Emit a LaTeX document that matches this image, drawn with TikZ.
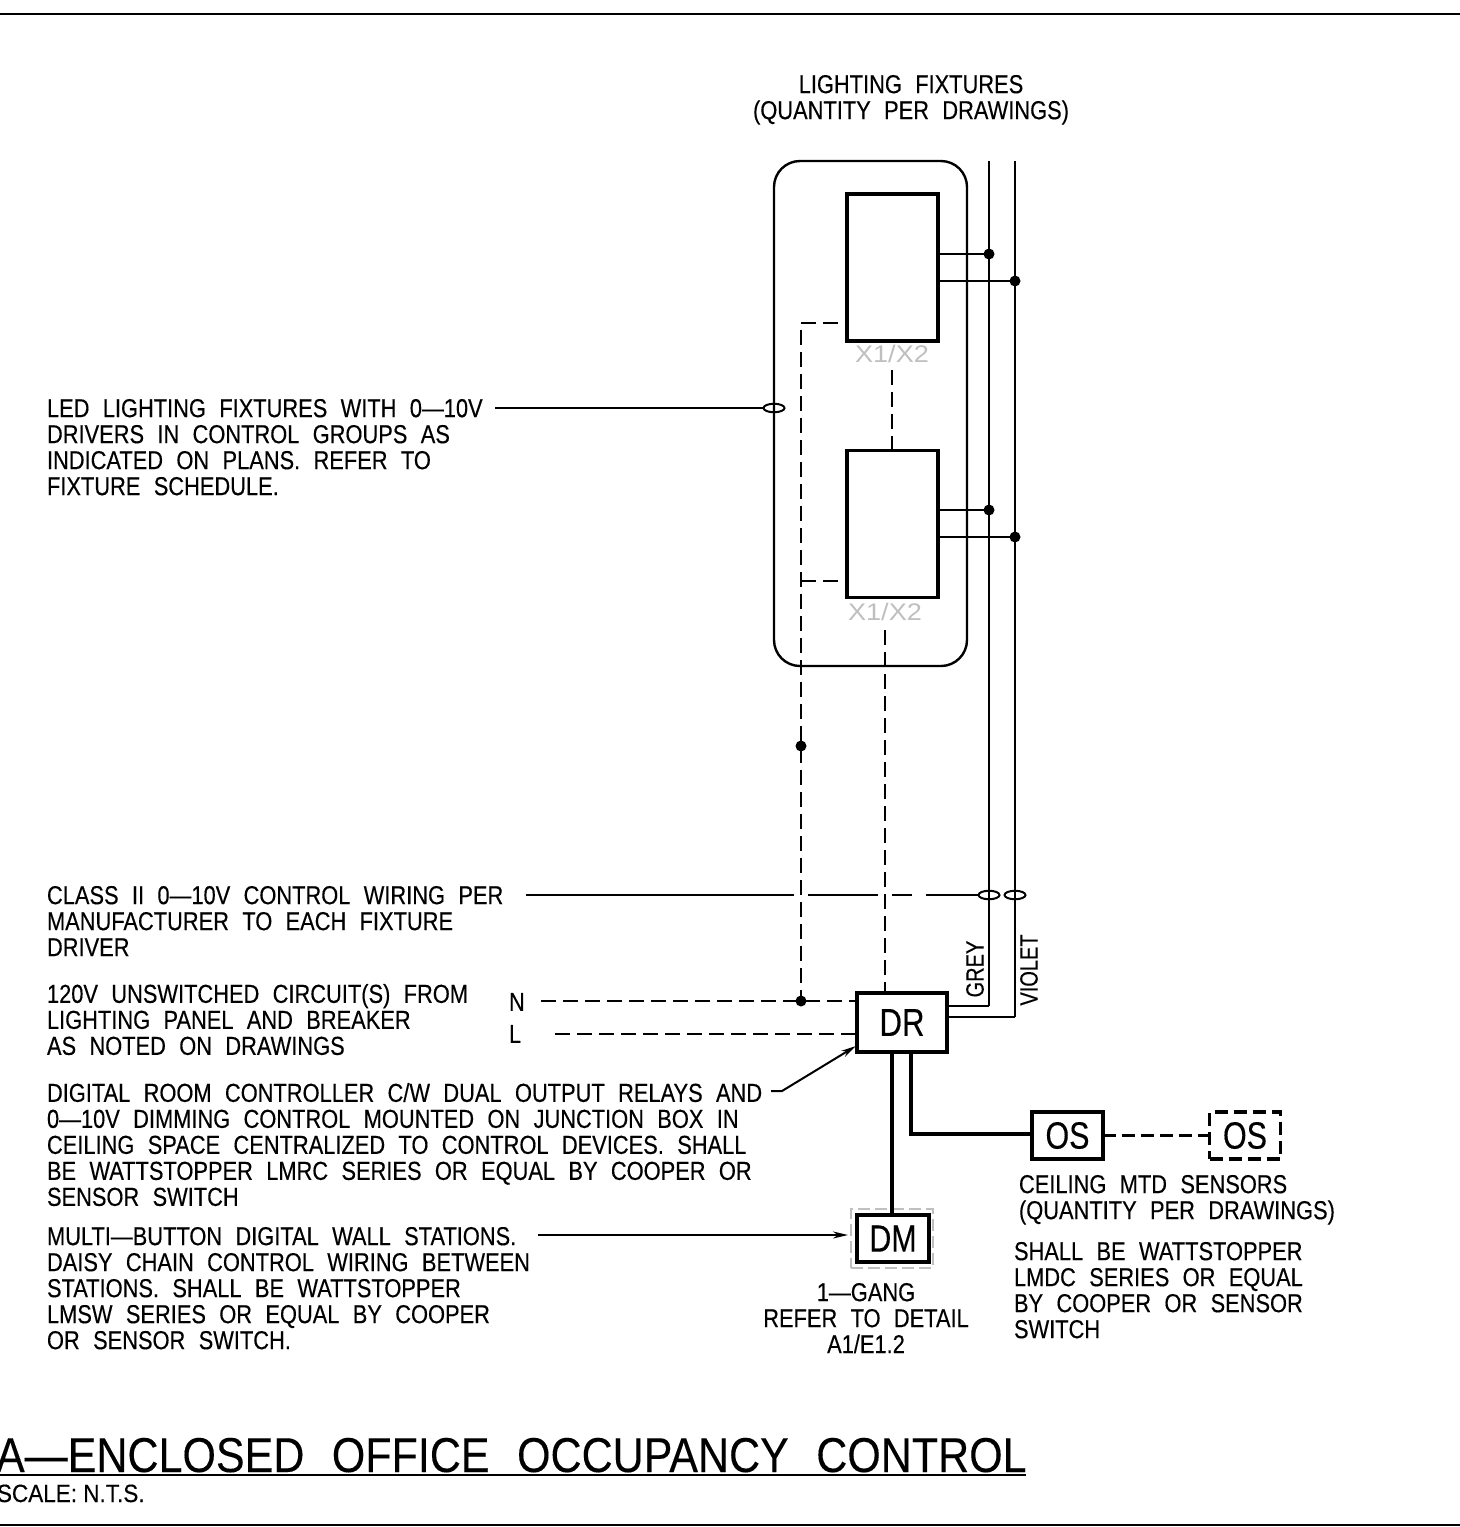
\documentclass[tikz,border=0pt]{standalone}
\usepackage{fontspec}
\setmainfont[FakeStretch=0.84,WordSpace=2.2,FakeBold=0.3]{Liberation Sans}
\newfontfamily\plainfont[FakeStretch=0.8,FakeBold=0.3]{Liberation Sans}
\newfontfamily\ghostfont[FakeStretch=1.13]{Liberation Sans}
\newfontfamily\scalefont[FakeStretch=0.9,FakeBold=0.3]{Liberation Sans}
\newfontfamily\titlefont[FakeStretch=0.878,WordSpace=2.3,FakeBold=0.2]{Liberation Sans}
\usetikzlibrary{arrows.meta,shapes.geometric}

\begin{document}
\begin{tikzpicture}
  [x=1pt,y=-1pt,every node/.style={inner sep=0pt,outer sep=0pt}]

  \tikzset{
  wire/.style = {line width=1.4pt},
  heavy/.style = {line width=3.4pt},
  ctrl/.style = {line width=1.4pt,dash pattern=on 15pt off 7pt},
  note/.style = {anchor=north west,align=left,font=\fontsize{26}{26}\selectfont},
  dev/.style = {draw,line width=3.6pt,minimum width=71pt,minimum height=47pt},
  fixture/.style = {draw,line width=3.8pt,minimum width=91pt,minimum height=147pt},
  ring/.style = {draw,ellipse,line width=2pt,minimum width=21pt,minimum height=8.5pt},
  dot/.style = {circle,fill=black,minimum size=11pt},
  ghost/.style = {text=black!25,font=\ghostfont\fontsize{24}{24}\selectfont}
  }

  \useasboundingbox (0,0) rectangle (1460,1527);

  \coordinate (t1) at (0,14);
  \coordinate (t2) at (1460,14);
  \coordinate (b1) at (0,1525);
  \coordinate (b2) at (1460,1525);
  \draw[line width=2.4pt] (t1) -- (t2);
  \draw[line width=2.4pt] (b1) -- (b2);

  \node[draw,line width=2.4pt,rounded corners=26pt,minimum width=193pt,minimum height=505pt] (group) at (870.5,413.5) {};
  \node[fixture] (fix1) at (892.5,267.5) {};
  \node[fixture] (fix2) at (892.5,524) {};
  \node[ghost] (lab1) at (892,354) {X1/X2};
  \node[ghost] (lab2) at (885,612) {X1/X2};

  \node[dev,minimum width=90pt,minimum height=59pt] (dr) at (902,1022.5) {};
  \node at (dr) {\plainfont\fontsize{39}{39}\selectfont DR};
  \node[dev,minimum width=72pt] (dm) at (893,1238.5) {};
  \node at (dm) {\plainfont\fontsize{38}{38}\selectfont DM};
  \node[draw=black!25,line width=1.3pt,dash pattern=on 12pt off 5pt,minimum width=82pt,minimum height=59pt] (dmbox) at (892,1238.5) {};
  \node[dev] (os1) at (1067.5,1135.5) {};
  \node at (os1) {\plainfont\fontsize{38}{38}\selectfont OS};
  \node[dev,dash pattern=on 13pt off 6pt] (os2) at (1245,1135.5) {};
  \node at (os2) {\plainfont\fontsize{38}{38}\selectfont OS};

  \coordinate (grey top) at (989,161);
  \coordinate (viol top) at (1015,161);
  \coordinate (grey end) at (989,1006);
  \coordinate (viol end) at (1015,1017);
  \node[dot] (j1) at (989,254) {};
  \node[dot] (j2) at (1015,281) {};
  \node[dot] (j3) at (989,510) {};
  \node[dot] (j4) at (1015,537) {};
  \node[dot] (j5) at (801,746) {};
  \node[dot] (j6) at (801,1001) {};
  \node[ring] (ring1) at (774,408) {};
  \node[ring] (ring2) at (989,895) {};
  \node[ring] (ring3) at (1015,895) {};

  \foreach \from/\to in {grey top/grey end,viol top/viol end,grey end/dr.east |- grey end,viol end/dr.east |- viol end}
    \draw[wire] (\from) -- (\to);
  \foreach \to in {j1,j2}
    \draw[wire] (fix1.east |- \to) -- (\to);
  \foreach \to in {j3,j4}
    \draw[wire] (fix2.east |- \to) -- (\to);

  \coordinate (c1) at (838,323);
  \coordinate (c2) at (801,323);
  \coordinate (c3) at (801,581);
  \coordinate (c4) at (892,370);
  \coordinate (c5) at (885,630);
  \coordinate (n1) at (541,1001);
  \coordinate (l1) at (555,1034);
  \draw[ctrl] (c1) -- (c2) -- (j6);
  \draw[ctrl] (c3) -- (fix2.west |- c3);
  \draw[ctrl] (c4) -- (fix2.north -| c4);
  \draw[ctrl] (c5) -- (dr.north -| c5);
  \draw[ctrl] (n1) -- (dr.west |- n1);
  \draw[ctrl] (l1) -- (dr.west |- l1);

  \coordinate (d1) at (892,1052);
  \coordinate (d2) at (911,1052);
  \coordinate (d3) at (911,1134);
  \draw[heavy] (d1) -- (dm.north -| d1);
  \draw[heavy] (d2) -- (d3) -- (os1.west |- d3);
  \draw[heavy,dash pattern=on 13pt off 6pt] (os1.east) -- (os2.west);

  \coordinate (led end) at (495,408);
  \coordinate (cls end) at (526,895);
  \coordinate (rc1) at (771,1091);
  \coordinate (rc2) at (782,1091);
  \coordinate (rc3) at (856,1046);
  \coordinate (ds end) at (538,1235);
  \coordinate (ds tip) at (848,1235);
  \draw[line width=2.4pt] (led end) -- (ring1.west);
  \draw[line width=2.4pt,dash pattern=on 268pt off 14pt on 70pt off 14pt on 20pt off 14pt on 53pt] (cls end) -- (ring2.west);
  \draw[line width=2pt,-{Stealth[length=15pt,width=7pt]}] (rc1) -- (rc2) -- (rc3);
  \draw[line width=2pt,-{Stealth[length=15pt,width=7pt]}] (ds end) -- (ds tip);

  \node[note,anchor=north,align=center] (hdr) at (911,75) {LIGHTING FIXTURES\\(QUANTITY PER DRAWINGS)};
  \node[note] (led) at (47,399) {LED LIGHTING FIXTURES WITH 0—10V\\DRIVERS IN CONTROL GROUPS AS\\INDICATED ON PLANS. REFER TO\\FIXTURE SCHEDULE.};
  \node[note] (cls) at (47,886) {CLASS II 0—10V CONTROL WIRING PER\\MANUFACTURER TO EACH FIXTURE\\DRIVER};
  \node[note] (unsw) at (47,984) {120V UNSWITCHED CIRCUIT(S) FROM\\LIGHTING PANEL AND BREAKER\\AS NOTED ON DRAWINGS};
  \node[note] (nlab) at (509,993) {N};
  \node[note] (llab) at (509,1025) {L};
  \node[note] (rc) at (47,1083) {DIGITAL ROOM CONTROLLER C/W DUAL OUTPUT RELAYS AND\\0—10V DIMMING CONTROL MOUNTED ON JUNCTION BOX IN\\CEILING SPACE CENTRALIZED TO CONTROL DEVICES. SHALL\\BE WATTSTOPPER LMRC SERIES OR EQUAL BY COOPER OR\\SENSOR SWITCH};
  \node[note] (ds) at (47,1227) {MULTI—BUTTON DIGITAL WALL STATIONS.\\DAISY CHAIN CONTROL WIRING BETWEEN\\STATIONS. SHALL BE WATTSTOPPER\\LMSW SERIES OR EQUAL BY COOPER\\OR SENSOR SWITCH.};
  \node[note,anchor=north,align=center] (gang) at (866,1283) {1—GANG\\REFER TO DETAIL\\A1/E1.2};
  \node[note] (os note) at (1019,1175) {CEILING MTD SENSORS\\(QUANTITY PER DRAWINGS)};
  \node[note] (os spec) at (1014,1242) {SHALL BE WATTSTOPPER\\LMDC SERIES OR EQUAL\\BY COOPER OR SENSOR\\SWITCH};
  \node[rotate=90,font=\plainfont\fontsize{25}{25}\selectfont] (grey) at (975,969) {GREY};
  \node[rotate=90,font=\plainfont\fontsize{25}{25}\selectfont] (viol) at (1029,970) {VIOLET};

  \node[anchor=base west,font=\titlefont\fontsize{49}{49}\selectfont] (title) at (-4,1472) {A—ENCLOSED OFFICE OCCUPANCY CONTROL};
  \coordinate (u1) at (0,1475);
  \coordinate (u2) at (1026,1475);
  \draw[line width=2pt] (u1) -- (u2);
  \node[anchor=base west,font=\scalefont\fontsize{25}{25}\selectfont] (scale) at (-3,1502) {SCALE: N.T.S.};

\end{tikzpicture}
\end{document}
